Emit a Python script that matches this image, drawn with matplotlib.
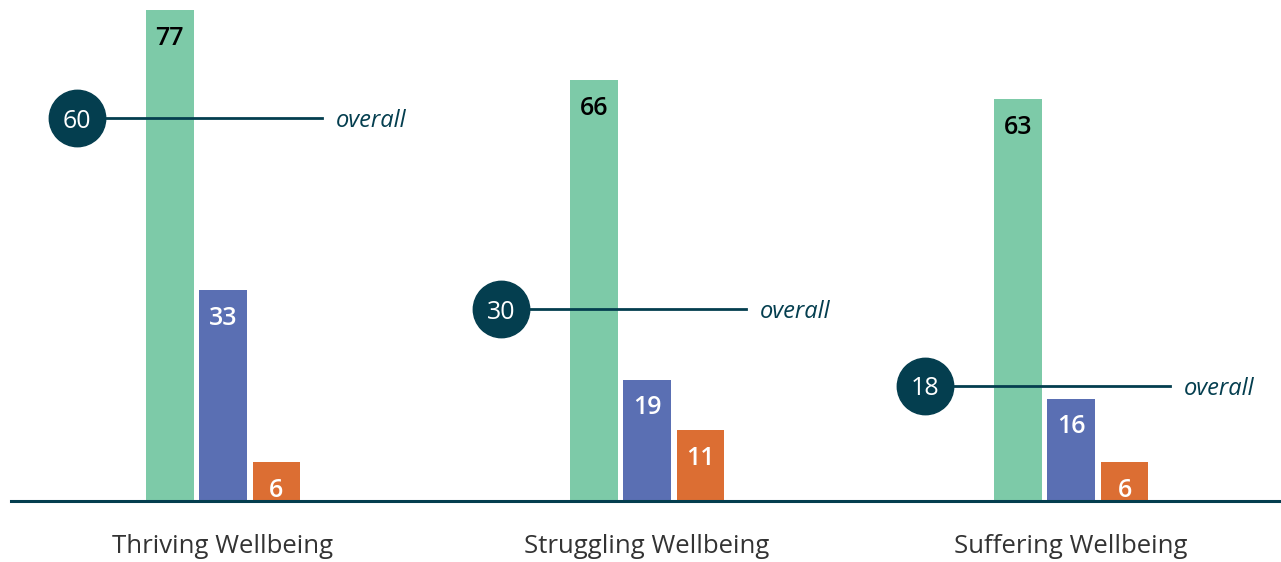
import numpy as np
import matplotlib.pyplot as plt

# datos del grafico
categorias = ['Thriving Wellbeing', 'Struggling Wellbeing', 'Suffering Wellbeing']
serie_verde = [77, 66, 63]
serie_azul = [33, 19, 16]
serie_naranja = [6, 11, 6]
promedio_general = [60, 30, 18]

VERDE = '#7dcaa8'
AZUL = '#5a6fb3'
NARANJA = '#dc6e33'
OSCURO = '#043e4f'
GRIS_TEXTO = '#333333'

plt.rcParams['font.family'] = ['Open Sans', 'DejaVu Sans']

fig = plt.figure(figsize=(12.81, 5.62), dpi=100)
ax = fig.add_axes([0, 0, 1, 1])

x = np.arange(len(categorias))
ancho = 0.113
desplazamiento = 0.126

series = [(serie_verde, VERDE, 'black', -desplazamiento),
          (serie_azul, AZUL, 'white', 0.0),
          (serie_naranja, NARANJA, 'white', desplazamiento)]

for valores, color, color_txt, dx in series:
    barras = ax.bar(x + dx, valores, width=ancho, color=color, zorder=2)
    for b, v in zip(barras, valores):
        ax.text(b.get_x() + b.get_width() / 2, v - 3.9, str(v),
                ha='center', va='center_baseline', fontsize=18, color=color_txt,
                fontweight='semibold', zorder=5)

# lineas de "overall"
for xi, prom in zip(x, promedio_general):
    ax.plot([xi - 0.344, xi + 0.233], [prom, prom], color=OSCURO, lw=2, zorder=3)
    ax.scatter([xi - 0.344], [prom], s=1650, color=OSCURO, zorder=4)
    ax.text(xi - 0.344, prom, str(prom), ha='center', va='center_baseline',
            fontsize=18, color='white', zorder=5)
    ax.text(xi + 0.267, prom, 'overall', ha='left', va='center_baseline',
            fontsize=17, color=OSCURO, style='italic')

ax.axhline(0, xmin=11 / 1281, xmax=1, color=OSCURO, lw=2.2, zorder=3)

for xi, cat in zip(x, categorias):
    ax.text(xi, -7.2, cat, ha='center', va='center', fontsize=18.5, color=GRIS_TEXTO)

ax.set_xlim(-0.526, 2.495)
ax.set_ylim(-9.65, 78.6)
ax.axis('off')

fig.savefig('out.png', dpi=100)
